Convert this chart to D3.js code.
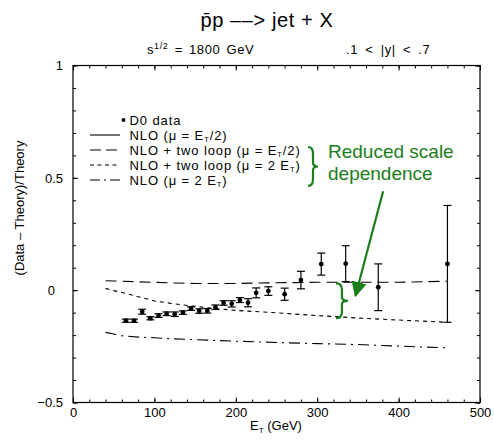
<!DOCTYPE html>
<html>
<head>
<meta charset="utf-8">
<script src="https://cdn.jsdelivr.net/npm/d3@7"></script>
<style>
  body { margin: 0; background: #fff; }
  svg text { font-family: "Liberation Sans", Arial, sans-serif; fill: #000; }
</style>
</head>
<body>
<svg id="jet-chart-svg" width="494" height="440"></svg>
<script>
// D0 inclusive jet data, .1 < |y| < .7, (Data - Theory)/Theory
let jetEt = [65, 75, 85, 95, 105, 115, 125, 135, 145, 155, 165, 175, 185, 195, 205, 215, 225, 240, 260, 280, 305, 335, 375, 460];
let jetRatio = [-0.136, -0.136, -0.096, -0.125, -0.113, -0.105, -0.107, -0.100, -0.082, -0.093, -0.092, -0.076,
                -0.057, -0.061, -0.044, -0.056, -0.012, -0.004, -0.018, 0.045, 0.116, 0.118, 0.013, 0.117];
let jetErr = [0.007, 0.007, 0.011, 0.007, 0.008, 0.008, 0.010, 0.008, 0.008, 0.010, 0.010, 0.010,
              0.010, 0.014, 0.011, 0.018, 0.022, 0.019, 0.027, 0.039, 0.049, 0.080, 0.104, 0.260];

// theory curves relative to NLO (mu = ET/2)
let theoryEt = [40, 50, 60, 80, 100, 125, 150, 175, 200, 250, 300, 350, 400, 460];
let twoLoopHalf = [0.042, 0.041, 0.040, 0.037, 0.035, 0.032, 0.030, 0.030, 0.030, 0.033, 0.035, 0.035, 0.035, 0.040];
let twoLoopTwice = [0.008, -0.002, -0.010, -0.029, -0.048, -0.061, -0.072, -0.082, -0.090, -0.101, -0.113, -0.124, -0.133, -0.143];
let nloTwice = [-0.188, -0.195, -0.203, -0.209, -0.212, -0.217, -0.220, -0.224, -0.227, -0.233, -0.238, -0.242, -0.249, -0.257];

let xTicks = [0, 100, 200, 300, 400, 500];
let yTicks = [-0.5, 0, 0.5, 1];
let yTickLabels = ["\u22120.5", "0", "0.5", "1"];

let svg = d3.select('#jet-chart-svg');
let pad = {t: 65.5, r: 14, b: 37.5, l: 73};
let chartW = 494 - pad.l - pad.r;
let chartH = 440 - pad.t - pad.b;

let x = d3.scaleLinear().domain([0, 500]).range([pad.l, pad.l + chartW]);
let y = d3.scaleLinear().domain([-0.5, 1]).range([pad.t + chartH, pad.t]);

let green = "#1b7d1b";

// frame
svg.append("rect")
    .attr("x", x(0)).attr("y", y(1))
    .attr("width", x(500) - x(0)).attr("height", y(-0.5) - y(1))
    .attr("fill", "none").attr("stroke", "#000").attr("stroke-width", 1.2);

// ticks, all pointing inward
function tickAxis(axis, tx, ty) {
    let g = svg.append("g").attr("transform", "translate(" + tx + "," + ty + ")").call(axis);
    g.select(".domain").remove();
    g.selectAll("line").attr("stroke", "#000");
    return g;
}
let xMinor = d3.range(0, 501, 20);
let yMinor = d3.range(-5, 11).map(d => d / 10);

tickAxis(d3.axisBottom(x).tickValues(xMinor).tickSize(-3).tickFormat(""), 0, y(-0.5));
tickAxis(d3.axisTop(x).tickValues(xMinor).tickSize(-3).tickFormat(""), 0, y(1));
tickAxis(d3.axisLeft(y).tickValues(yMinor).tickSize(-3).tickFormat(""), x(0), 0);
tickAxis(d3.axisRight(y).tickValues(yMinor).tickSize(-3).tickFormat(""), x(500), 0);

let xAxisG = tickAxis(d3.axisBottom(x).tickValues(xTicks).tickSize(-5).tickPadding(5), 0, y(-0.5));
xAxisG.selectAll("text").attr("font-size", "13px").attr("font-family", "Liberation Sans, Arial, sans-serif");
tickAxis(d3.axisTop(x).tickValues(xTicks).tickSize(-5).tickFormat(""), 0, y(1));

let yAxisG = tickAxis(d3.axisLeft(y).tickValues(yTicks).tickSize(-5).tickPadding(10)
    .tickFormat((d, i) => yTickLabels[i]), x(0), 0);
yAxisG.selectAll("text").attr("font-size", "13px").attr("font-family", "Liberation Sans, Arial, sans-serif")
    .attr("dx", d => d === 0 ? -8 : 0);
tickAxis(d3.axisRight(y).tickValues(yTicks).tickSize(-5).tickFormat(""), x(500), 0);

// theory curves
let curve = d3.line().x(d => x(d[0])).y(d => y(d[1]));
let curves = [
    {vals: twoLoopHalf, dash: "11,6"},
    {vals: twoLoopTwice, dash: "4,4"},
    {vals: nloTwice, dash: "11,5,2,5"}
];
svg.selectAll("path.theory").data(curves).enter()
    .append("path")
    .attr("class", "theory")
    .attr("d", c => curve(theoryEt.map((e, i) => [e, c.vals[i]])))
    .attr("fill", "none")
    .attr("stroke", "#000")
    .attr("stroke-width", 1.1)
    .attr("stroke-dasharray", c => c.dash);

// data with error bars
let points = jetEt.map((e, i) => ({et: e, r: jetRatio[i], err: jetErr[i]}));
let pts = svg.selectAll("g.pt").data(points).enter().append("g").attr("class", "pt");
pts.append("line")
    .attr("x1", d => x(d.et)).attr("x2", d => x(d.et))
    .attr("y1", d => y(d.r - d.err)).attr("y2", d => y(d.r + d.err))
    .attr("stroke", "#000").attr("stroke-width", 1.2);
pts.selectAll("line.cap").data(d => [d.r - d.err, d.r + d.err].map(v => ({et: d.et, v: v})))
    .enter().append("line").attr("class", "cap")
    .attr("x1", d => x(d.et) - 4).attr("x2", d => x(d.et) + 4)
    .attr("y1", d => y(d.v)).attr("y2", d => y(d.v))
    .attr("stroke", "#000").attr("stroke-width", 1.2);
pts.append("circle")
    .attr("cx", d => x(d.et)).attr("cy", d => y(d.r))
    .attr("r", 2.4).attr("fill", "#000");

// titles
svg.append("text").attr("x", 267).attr("y", 27).attr("text-anchor", "middle")
    .attr("font-size", "20px").attr("letter-spacing", "0.6px")
    .text("p\u0304p \u2013\u2013> jet + X");

let sub = svg.append("text").attr("x", 147).attr("y", 54).attr("font-size", "13px")
    .attr("letter-spacing", "0.6px").attr("word-spacing", "2px");
sub.append("tspan").text("s");
sub.append("tspan").attr("dy", -5).attr("font-size", "9px").text("1/2");
sub.append("tspan").attr("dy", 5).text(" = 1800 GeV");
svg.append("text").attr("x", 346).attr("y", 54).attr("font-size", "13px")
    .attr("letter-spacing", "0.6px").attr("word-spacing", "3px").text(".1 < |y| < .7");

// axis labels
let xl = svg.append("text").attr("x", 276).attr("y", 430).attr("text-anchor", "middle").attr("font-size", "13px");
xl.append("tspan").text("E");
xl.append("tspan").attr("dy", 3).attr("font-size", "8px").text("T");
xl.append("tspan").attr("dy", -3).text(" (GeV)");

svg.append("text")
    .attr("transform", "translate(24,208) rotate(-90)")
    .attr("text-anchor", "middle").attr("font-size", "13px")
    .text("(Data \u2013 Theory)/Theory");

// legend
let legendRows = [
    {mark: "dot", parts: [["D0 data", ""]]},
    {mark: "none", parts: [["NLO (\u03bc = E", ""], ["T", "sub"], ["/2)", ""]]},
    {mark: "11,5", parts: [["NLO + two loop (\u03bc = E", ""], ["T", "sub"], ["/2)", ""]]},
    {mark: "4,3.5", parts: [["NLO + two loop (\u03bc = 2 E", ""], ["T", "sub"], [")", ""]]},
    {mark: "10,4,2,4", parts: [["NLO (\u03bc = 2 E", ""], ["T", "sub"], [")", ""]]}
];
let legend = svg.append("g");
legendRows.forEach(function(row, i) {
    let ly = 120 + i * 15;
    if (row.mark === "dot") {
        legend.append("circle").attr("cx", 123.5).attr("cy", ly).attr("r", 2).attr("fill", "#000");
    } else {
        legend.append("line").attr("x1", 90).attr("x2", 120).attr("y1", ly).attr("y2", ly)
            .attr("stroke", "#000").attr("stroke-width", 1.1)
            .attr("stroke-dasharray", row.mark === "none" ? null : row.mark);
    }
    let t = legend.append("text").attr("x", 129.5).attr("y", ly + 4.5)
        .attr("font-size", "13px").attr("letter-spacing", "0.9px");
    row.parts.forEach(function(p) {
        if (p[1] === "sub") {
            t.append("tspan").attr("dy", 2).attr("font-size", "7.5px").text(p[0]);
        } else {
            let s = t.append("tspan").text(p[0]);
            if (t.selectAll("tspan").size() > 1) s.attr("dy", -2);
        }
    });
});

// annotation
function bracePath(bx, y0, y1, w) {
    let h = y1 - y0, ym = (y0 + y1) / 2, mx = bx + w / 2;
    return "M" + bx + "," + y0 +
        " Q" + mx + "," + y0 + " " + mx + "," + (y0 + h * 0.18) +
        " L" + mx + "," + (ym - h * 0.1) +
        " Q" + mx + "," + ym + " " + (bx + w) + "," + ym +
        " Q" + mx + "," + ym + " " + mx + "," + (ym + h * 0.1) +
        " L" + mx + "," + (y1 - h * 0.18) +
        " Q" + mx + "," + y1 + " " + bx + "," + y1;
}
svg.append("path").attr("d", bracePath(308, 147, 186, 10))
    .attr("fill", "none").attr("stroke", green).attr("stroke-width", 2.2);
svg.append("path").attr("d", bracePath(x(323), y(0.03), y(-0.125), 12))
    .attr("fill", "none").attr("stroke", green).attr("stroke-width", 2.2);

let note = svg.append("text").attr("x", 328).attr("y", 158).attr("font-size", "19px")
    .attr("font-family", "DejaVu Sans, sans-serif").style("fill", green);
note.append("tspan").text("Reduced scale");
note.append("tspan").attr("x", 328).attr("dy", 22).text("dependence");

svg.append("defs").append("marker")
    .attr("id", "arrowhead").attr("viewBox", "0 0 10 10").attr("refX", 9).attr("refY", 5)
    .attr("markerWidth", 7).attr("markerHeight", 7).attr("orient", "auto")
    .append("path").attr("d", "M0,0 L10,5 L0,10 z").attr("fill", green);
svg.append("line")
    .attr("x1", x(381)).attr("y1", y(0.44))
    .attr("x2", x(347)).attr("y2", y(-0.025))
    .attr("stroke", green).attr("stroke-width", 2.2)
    .attr("marker-end", "url(#arrowhead)");
</script>
</body>
</html>
